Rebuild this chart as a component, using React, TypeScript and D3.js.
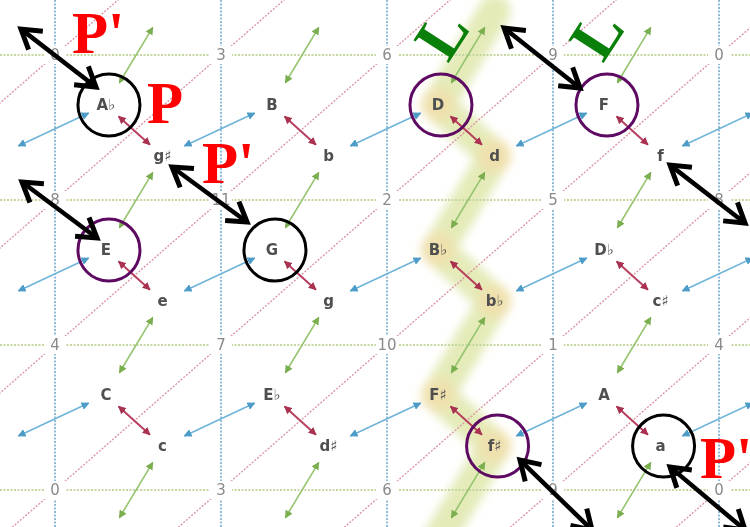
import React, { useEffect } from "react";
import * as d3 from "d3";

const W = 750;
const H = 527;

// lattice columns / rows (grid vertices)
const columnIndex = [0, 1, 2, 3, 4];
const rowIndex = [0, 1, 2, 3];

// pitch-class numbers at the lattice vertices
const gridLabels = [
  [0, 3, 6, 9, 0],
  [8, 11, 2, 5, 8],
  [4, 7, 10, 1, 4],
  [0, 3, 6, 9, 0],
];

// major (upper-left) and minor (lower-right) triads of each cell
const majorChords = [
  ["A\u266D", "B", "D", "F"],
  ["E", "G", "B\u266D", "D\u266D"],
  ["C", "E\u266D", "F\u266F", "A"],
];
const minorChords = [
  ["g\u266F", "b", "d", "f"],
  ["e", "g", "b\u266D", "c\u266F"],
  ["c", "d\u266F", "f\u266F", "a"],
];

// highlighted L / P chain through column 2
const chainPath = [
  { col: 2, row: -1, type: "minor" },
  { col: 2, row: 0, type: "major" },
  { col: 2, row: 0, type: "minor" },
  { col: 2, row: 1, type: "major" },
  { col: 2, row: 1, type: "minor" },
  { col: 2, row: 2, type: "major" },
  { col: 2, row: 2, type: "minor" },
  { col: 2, row: 3, type: "major" },
];

// circled chords
const circledChords = [
  { col: 0, row: 0, type: "major", color: "#000000" },
  { col: 0, row: 1, type: "major", color: "#5e0a63" },
  { col: 1, row: 1, type: "major", color: "#000000" },
  { col: 2, row: 0, type: "major", color: "#5e0a63" },
  { col: 3, row: 0, type: "major", color: "#5e0a63" },
  { col: 2, row: 2, type: "minor", color: "#5e0a63" },
  { col: 3, row: 2, type: "minor", color: "#000000" },
];

// black double-headed pointer arrows, in lattice units [col1,row1,col2,row2]
const pointerArrows = [
  [-0.205, -0.179, 0.247, 0.221],
  [-0.199, 0.876, 0.253, 1.262],
  [0.705, 0.772, 1.157, 1.152],
  [2.705, -0.186, 3.163, 0.228],
  [3.705, 0.759, 4.157, 1.159],
  [2.801, 2.793, 3.235, 3.276],
  [3.705, 2.841, 4.157, 3.276],
];

// relation labels (left/baseline, lattice units)
const relationLabels = [
  { text: "P'", col: 0.102, row: -0.014 },
  { text: "P", col: 0.554, row: 0.469 },
  { text: "P'", col: 0.886, row: 0.883 },
  { text: "P'", col: 3.886, row: 2.917 },
];
// rotated "L" labels (centre, lattice units)
const leadingLabels = [
  { text: "L", col: 2.331, row: -0.14 },
  { text: "L", col: 3.265, row: -0.14 },
];

const MAJ = { dc: 0.307, dr: 0.345 };
const MIN = { dc: 0.648, dr: 0.697 };

export default function App() {
  useEffect(() => {
    document.body.style.margin = "0";
  }, []);

  const x = d3.scaleLinear().domain([0, 4]).range([55, 719]);
  const y = d3.scaleLinear().domain([0, 3]).range([55, 490]);

  const pos = (col: number, row: number, type: string): [number, number] =>
    type === "major"
      ? [x(col + MAJ.dc), y(row + MAJ.dr)]
      : [x(col + MIN.dc), y(row + MIN.dr)];

  const shorten = (a: [number, number], b: [number, number], s1: number, s2: number) => {
    const dx = b[0] - a[0];
    const dy = b[1] - a[1];
    const len = Math.hypot(dx, dy);
    const ux = dx / len;
    const uy = dy / len;
    return [a[0] + ux * s1, a[1] + uy * s1, b[0] - ux * s2, b[1] - uy * s2];
  };

  const cols = d3.range(0, 4);
  const rows = d3.range(0, 3);

  // relation arrows
  const pArrows: number[][] = [];
  rows.forEach((r) =>
    cols.forEach((c) => pArrows.push(shorten(pos(c, r, "major"), pos(c, r, "minor"), 17, 17)))
  );
  const rArrows: number[][] = [];
  rows.forEach((r) =>
    d3.range(-1, 4).forEach((c) =>
      rArrows.push(shorten(pos(c, r, "minor"), pos(c + 1, r, "major"), 24, 19))
    )
  );
  const lArrows: number[][] = [];
  d3.range(0, 4).forEach((r) =>
    cols.forEach((c) => lArrows.push(shorten(pos(c, r, "major"), pos(c, r - 1, "minor"), 26, 19)))
  );

  // cell diagonals
  const diagonals: number[][] = [];
  d3.range(-1, 4).forEach((r) =>
    d3.range(-1, 5).forEach((c) =>
      diagonals.push(shorten([x(c), y(r + 1)], [x(c + 1), y(r)], 13, 13))
    )
  );

  const chainLine = d3
    .line<{ col: number; row: number; type: string }>()
    .x((d) => pos(d.col, d.row, d.type)[0])
    .y((d) => pos(d.col, d.row, d.type)[1]);

  const blackArrow = (a: number[], i: number) => {
    const x1 = x(a[0]);
    const y1 = y(a[1]);
    const x2 = x(a[2]);
    const y2 = y(a[3]);
    const ang = Math.atan2(y2 - y1, x2 - x1);
    const L = 22;
    const sp = (32 * Math.PI) / 180;
    const head = (tx: number, ty: number, dir: number) =>
      `M${tx - L * Math.cos(dir - sp)},${ty - L * Math.sin(dir - sp)} L${tx},${ty} L${
        tx - L * Math.cos(dir + sp)
      },${ty - L * Math.sin(dir + sp)}`;
    return (
      <g key={"ba" + i} stroke="#000" fill="none" strokeWidth={5} strokeLinejoin="miter">
        <line x1={x1 + 3 * Math.cos(ang)} y1={y1 + 3 * Math.sin(ang)} x2={x2 - 3 * Math.cos(ang)} y2={y2 - 3 * Math.sin(ang)} strokeWidth={4.5} />
        <path d={head(x2, y2, ang)} />
        <path d={head(x1, y1, ang + Math.PI)} />
      </g>
    );
  };

  const arrowLines = (list: number[][], color: string, marker: string, key: string, w: number) =>
    list.map((a, i) => (
      <line
        key={key + i}
        x1={a[0]}
        y1={a[1]}
        x2={a[2]}
        y2={a[3]}
        stroke={color}
        strokeWidth={w}
        markerStart={`url(#${marker})`}
        markerEnd={`url(#${marker})`}
      />
    ));

  const fontSans = "'DejaVu Sans', sans-serif";
  const fontSerif = "'Liberation Serif', 'Times New Roman', serif";

  return (
    <div style={{ position: "absolute", left: 0, top: 0 }}>
      <svg width={W} height={H} style={{ display: "block", background: "#fff" }}>
        <defs>
          {[
            ["mRed", "#a8304f"],
            ["mBlue", "#4d9cc8"],
            ["mGreen", "#7aae4f"],
          ].map(([id, c]) => (
            <marker
              key={id}
              id={id}
              viewBox="0 0 10 10"
              refX={9}
              refY={5}
              markerWidth={8}
              markerHeight={8}
              markerUnits="userSpaceOnUse"
              orient="auto-start-reverse"
            >
              <path d="M0,0 L10,5 L0,10 Z" fill={c} />
            </marker>
          ))}
          <filter id="blurBig" x="-50%" y="-50%" width="200%" height="200%">
            <feGaussianBlur stdDeviation={5} />
          </filter>
          <filter id="soft" x="-10%" y="-10%" width="120%" height="120%">
            <feGaussianBlur stdDeviation={0.45} />
          </filter>
        </defs>

        {/* highlighted chain */}
        <g filter="url(#blurBig)">
          <path
            d={chainLine(chainPath) || ""}
            fill="none"
            stroke="#dde6a6"
            strokeOpacity={0.8}
            strokeWidth={32}
            strokeLinejoin="round"
            strokeLinecap="round"
          />
          {chainPath.slice(1, 7).map((d, i) => {
            const p = pos(d.col, d.row, d.type);
            return <circle key={"g" + i} cx={p[0]} cy={p[1]} r={17} fill="#f3ddaa" fillOpacity={0.7} />;
          })}
        </g>

        <g filter="url(#soft)">
          {/* grid lines */}
          {columnIndex.map((c) => (
            <line key={"v" + c} x1={x(c)} x2={x(c)} y1={0} y2={H} stroke="#8fbdd9" strokeWidth={2} strokeDasharray="2 1.5" />
          ))}
          {rowIndex.map((r) => (
            <line key={"h" + r} x1={0} x2={W} y1={y(r)} y2={y(r)} stroke="#c6d7a2" strokeWidth={2} strokeDasharray="2 1.5" />
          ))}
          {/* diagonals */}
          {diagonals.map((a, i) => (
            <line key={"d" + i} x1={a[0]} y1={a[1]} x2={a[2]} y2={a[3]} stroke="#dc97a6" strokeWidth={1.4} strokeDasharray="2 1.5" />
          ))}
          {/* vertex labels */}
          {rowIndex.map((r) =>
            columnIndex.map((c) => (
              <g key={"gl" + r + "-" + c}>
                <rect x={x(c) - 11} y={y(r) - 9} width={22} height={18} fill="#fff" />
                <text
                  x={x(c)}
                  y={y(r)}
                  textAnchor="middle"
                  dominantBaseline="central"
                  fontFamily={fontSans}
                  fontSize={15}
                  fill="#8a8a8a"
                >
                  {gridLabels[r][c]}
                </text>
              </g>
            ))
          )}
          {/* relation arrows */}
          {arrowLines(rArrows, "#6fb4da", "mBlue", "r", 1.6)}
          {arrowLines(lArrows, "#95c46e", "mGreen", "l", 1.6)}
          {arrowLines(pArrows, "#b8405f", "mRed", "p", 2)}
          {/* chord labels */}
          {rows.map((r) =>
            cols.map((c) => {
              const pM = pos(c, r, "major");
              const pm = pos(c, r, "minor");
              return (
                <g key={"ch" + r + "-" + c} fontFamily={fontSans} fontSize={15} fontWeight="bold" fill="#505050">
                  <text x={pM[0]} y={pM[1]} textAnchor="middle" dominantBaseline="central">
                    {majorChords[r][c]}
                  </text>
                  <text x={pm[0]} y={pm[1]} textAnchor="middle" dominantBaseline="central">
                    {minorChords[r][c]}
                  </text>
                </g>
              );
            })
          )}
        </g>

        {/* circles */}
        {circledChords.map((d, i) => {
          const p = pos(d.col, d.row, d.type);
          return (
            <circle key={"c" + i} cx={p[0] + 3} cy={p[1]} r={31} fill="none" stroke={d.color} strokeWidth={3} />
          );
        })}

        {/* black pointer arrows */}
        {pointerArrows.map((a, i) => blackArrow(a, i))}

        {/* relation labels */}
        {relationLabels.map((d, i) => (
          <text
            key={"t" + i}
            x={x(d.col)}
            y={y(d.row)}
            fontFamily={fontSerif}
            fontWeight="bold"
            fontSize={59}
            fill="#ff0000"
          >
            {d.text}
          </text>
        ))}
        {leadingLabels.map((d, i) => (
          <text
            key={"L" + i}
            transform={`translate(${x(d.col)},${y(d.row)}) rotate(-57)`}
            x={0}
            y={21}
            textAnchor="middle"
            fontFamily={fontSerif}
            fontWeight="bold"
            fontSize={64}
            fill="#0a7f0a"
          >
            {d.text}
          </text>
        ))}
      </svg>
    </div>
  );
}
